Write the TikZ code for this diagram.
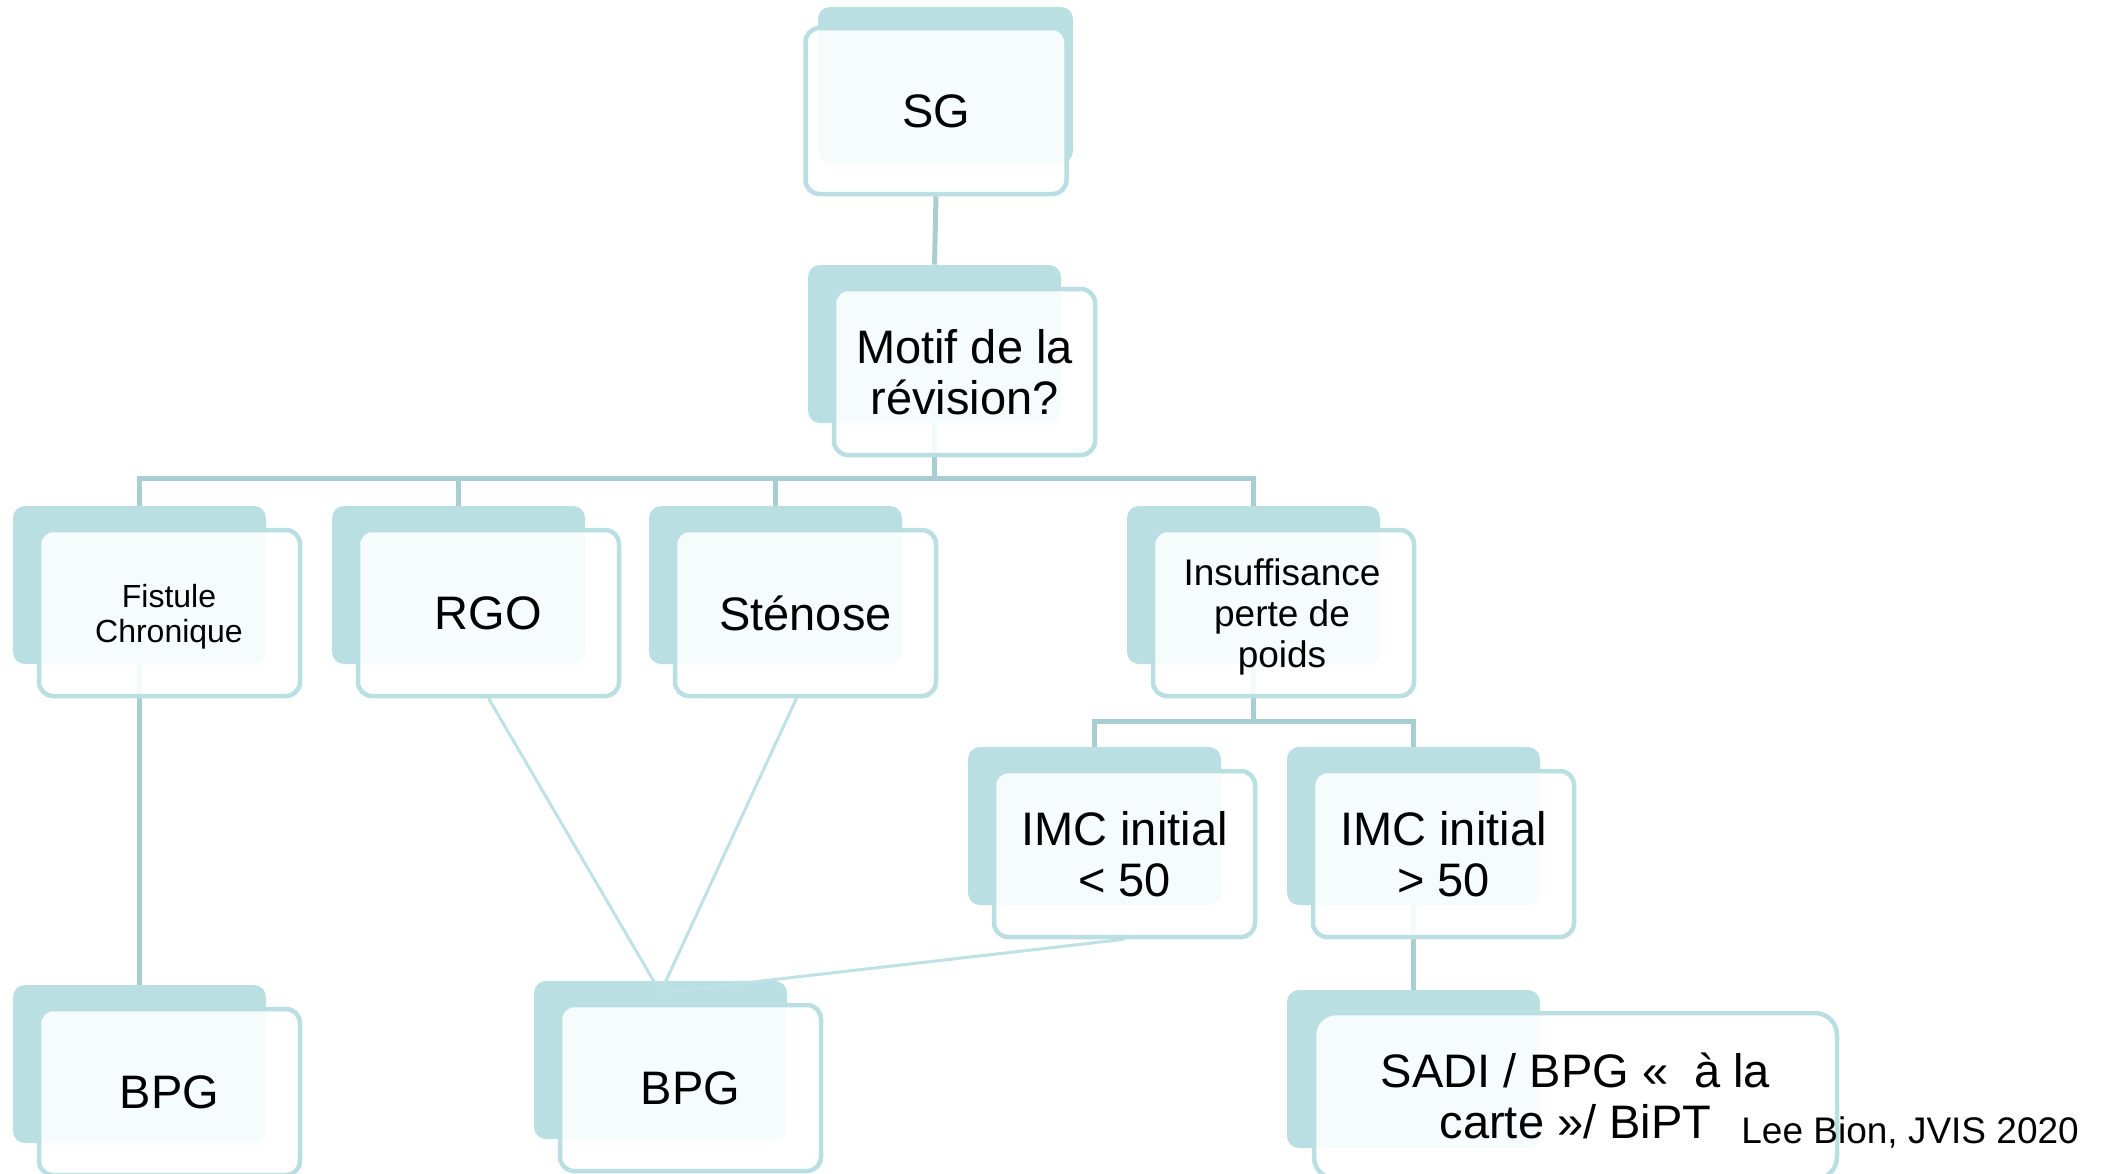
\documentclass[tikz,border=0pt]{standalone}
\usepackage{fontspec}
\setmainfont{Liberation Sans}
\usetikzlibrary{calc}
\definecolor{backc}{HTML}{B9DFE3}
\definecolor{edgec}{HTML}{B9DFE3}
\definecolor{treec}{HTML}{A9CED2}
\definecolor{thinc}{HTML}{BEE1E5}
\pgfdeclarelayer{treel}
\pgfdeclarelayer{backl}
\pgfdeclarelayer{thinl}
\pgfsetlayers{treel,backl,thinl,main}
\begin{document}
\begin{tikzpicture}[x=0.5pt,y=-0.5pt,
  backbox/.style={fill=backc, draw=none, rounded corners=6pt, minimum width=126.5pt, minimum height=79pt, inner sep=0pt},
  frontbox/.style={draw=edgec, line width=2.25pt, fill=white, fill opacity=0.88, text opacity=1, rounded corners=7pt, minimum width=130.5pt, minimum height=83pt, inner sep=0pt, align=center},
  plaintext/.style={inner sep=0pt, align=center},
  fbig/.style={font=\fontsize{23.5pt}{25.5pt}\selectfont},
  fmid/.style={font=\fontsize{18.5pt}{20.5pt}\selectfont},
  fsmall/.style={font=\fontsize{16pt}{17.5pt}\selectfont},
  tree/.style={draw=treec, line width=2.5pt},
  thinlink/.style={draw=thinc, line width=1.5pt}]
\useasboundingbox (0,0) rectangle (2108,1173);

% back boxes
\begin{pgfonlayer}{backl}
\node[backbox, minimum width=127.5pt, minimum height=78pt] (sgB) at (945.5,85) {};
\node[backbox] (motifB) at (934.5,344) {};
\node[backbox] (fistB) at (139.5,585) {};
\node[backbox] (rgoB) at (458.5,585) {};
\node[backbox] (stenB) at (775.5,585) {};
\node[backbox] (insB) at (1253.5,585) {};
\node[backbox] (imcaB) at (1094.5,826) {};
\node[backbox] (imcbB) at (1413.5,826) {};
\node[backbox] (bpglB) at (139.5,1064) {};
\node[backbox] (bpgmB) at (660.5,1060) {};
\node[backbox] (sadiB) at (1413.5,1069) {};
\end{pgfonlayer}

% front boxes with text
\node[frontbox, fbig] (sg) at (936,111) {SG};
\node[frontbox, fbig] (motif) at (964.5,372) {Motif de la\\révision?};
\node[frontbox] (fist) at (169.5,613) {};
\node[plaintext, fsmall] (fistT) at (169,617) {Fistule\\Chronique};
\node[frontbox, fbig] (rgo) at (488.5,613) {RGO};
\node[frontbox, fbig] (sten) at (805.5,613) {Sténose};
\node[frontbox] (ins) at (1283.5,613) {};
\node[plaintext, fmid] (insT) at (1282,617) {Insuffisance\\perte de\\poids};
\node[frontbox, fbig] (imca) at (1124.5,854) {IMC initial\\< 50};
\node[frontbox, fbig] (imcb) at (1443.5,854) {IMC initial\\> 50};
\node[frontbox, fbig] (bpgl) at (169.5,1092) {BPG};
\node[frontbox, fbig] (bpgm) at (690.5,1088) {BPG};
\node[frontbox, fbig, minimum width=261.5pt, rounded corners=11pt] (sadi) at (1575.5,1096) {SADI / BPG «\ \ à la\\carte »/ BiPT};

\node[anchor=base west, inner sep=0pt, font=\fontsize{18.5pt}{20pt}\selectfont] (ref) at (1741,1143) {Lee Bion, JVIS 2020};

% tree connectors
\begin{pgfonlayer}{treel}
\draw[tree] (sg.south) -- (motifB.north);
\draw[tree] (motifB.south) -- ++(0,55) coordinate (busM);
\draw[tree] (busM) -| (fistB.north);
\draw[tree] (busM) -| (rgoB.north);
\draw[tree] (busM) -| (stenB.north);
\draw[tree] (busM) -| (insB.north);
\draw[tree] (insB.south) -- ++(0,57) coordinate (busI);
\draw[tree] (busI) -| (imcaB.north);
\draw[tree] (busI) -| (imcbB.north);
\draw[tree] (imcbB.south) -- (sadiB.north);
\draw[tree] (fistB.south) -- (bpglB.north);
\end{pgfonlayer}

% thin connectors
\begin{pgfonlayer}{thinl}
\coordinate (conv) at ($(bpgmB.north)+(0,12)$);
\coordinate (stenfoot) at ($(sten.south)+(-9,0)$);
\draw[thinlink] (rgo.south) -- (conv);
\draw[thinlink] (stenfoot) -- (conv);
\draw[thinlink] (imca.south) -- (conv);
\end{pgfonlayer}
\end{tikzpicture}
\end{document}
